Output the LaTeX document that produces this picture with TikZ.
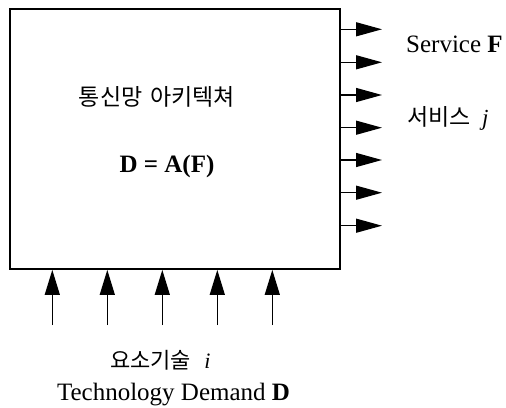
\documentclass[tikz,border=0pt]{standalone}
\usepackage{fontspec}
\setmainfont{Liberation Serif}
\newfontfamily\kor{Noto Sans CJK KR}
\usetikzlibrary{arrows.meta}
\tikzset{
  archbox/.style={draw, line width=1.8pt, minimum width=330pt, minimum height=260pt, inner sep=0pt},
  outarrow/.style={line width=1.3pt, -{Triangle[length=26pt,width=14pt]}},
  inarrow/.style={line width=1.3pt, -{Triangle[length=25pt,width=15pt]}},
  label/.style={inner sep=0pt, font=\fontsize{25}{30}\selectfont},
  korlabel/.style={inner sep=0pt, font=\kor\fontsize{23}{27}\selectfont},
}
\begin{document}
\begin{tikzpicture}[x=1pt,y=-1pt]
\useasboundingbox (0,0) rectangle (506,407);

% the architecture block
\node[archbox] (box) at (175,139) {};
\node[korlabel] (title) at (157,97) {통신망\hspace{0.35em}아키텍쳐};
\node[label, font=\bfseries\fontsize{25}{30}\selectfont] (eq) at (167,166) {D = A(F)};

% services leaving on the right
\foreach \i/\y in {1/29.3, 2/62.3, 3/95, 4/127.7, 5/160, 6/192.7, 7/225.7} {
  \coordinate (o\i) at (382,\y);
  \draw[outarrow] (box.east |- o\i) -- (o\i);
}
\node[label, anchor=base west] (svc) at (406,52.7) {Service \textbf{F}};
\node[korlabel, anchor=west] (svck) at (407,118) {서비스\hspace{0.5em}\textit{\rmfamily j}};

% technologies entering from below
\foreach \i/\x in {1/52.3, 2/107.3, 3/162.3, 4/217.3, 5/272.3} {
  \coordinate (t\i) at (\x,325);
  \draw[inarrow] (t\i) -- (box.south -| t\i);
}
\node[korlabel, font=\kor\fontsize{22}{26}\selectfont, anchor=west] (tech) at (110,360) {요소기술\hspace{0.6em}\textit{\rmfamily i}};
\node[label, anchor=base] (demand) at (173.5,400) {Technology Demand \textbf{D}};
\end{tikzpicture}
\end{document}
